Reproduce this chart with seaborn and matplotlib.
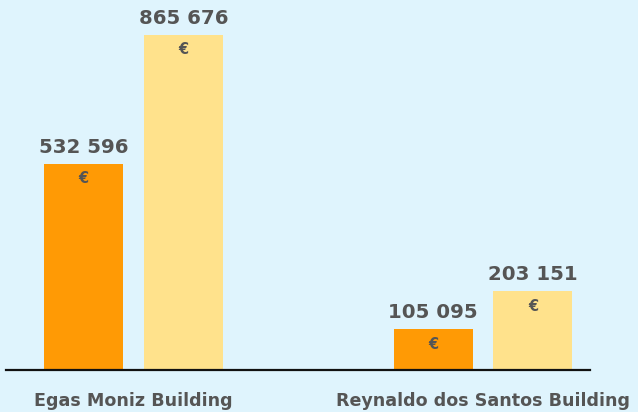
import matplotlib
matplotlib.use("Agg")
import pandas as pd
import matplotlib.pyplot as plt
import seaborn as sns

# values
buildings = ["Egas Moniz Building", "Reynaldo dos Santos Building"]
series_names = ["A", "B"]
values_a = [532596, 105095]
values_b = [865676, 203151]

df = pd.DataFrame({
    "building": buildings * 2,
    "series": [series_names[0]] * 2 + [series_names[1]] * 2,
    "value": values_a + values_b,
})

bg = "#dff4fd"
text_col = "#555555"
palette = {"A": "#ff9a05", "B": "#ffe28c"}

sns.set_style("white")
plt.rcParams["font.family"] = ["DejaVu Sans"]

fig = plt.figure(figsize=(6.38, 4.12), dpi=100, facecolor=bg)
ax = fig.add_axes([6 / 638, 42 / 412, 584 / 638, 370 / 412])
ax.set_facecolor(bg)

sns.barplot(data=df, x="building", y="value", hue="series", palette=palette,
            width=0.572, gap=0.21, saturation=1, linewidth=0, ax=ax,
            legend=False)

def fmt(v):
    return f"{v:,}".replace(",", " ")

for cont in ax.containers:
    vals = [b.get_height() for b in cont]
    ax.bar_label(cont, labels=[fmt(int(round(v))) for v in vals], padding=5,
                 fontsize=14.2, fontweight="bold", color=text_col)
    ax.bar_label(cont, labels=["€"] * len(vals), padding=-16,
                 fontsize=10.5, fontweight="bold", color=text_col)

ax.set_xlim(-127.5 / 349.5, 456.5 / 349.5)
ax.set_ylim(0, 865676 * 370 / 335)
ax.set_yticks([])
ax.set_xlabel("")
ax.set_ylabel("")
ax.tick_params(axis="x", length=0, pad=16)
for lab in ax.get_xticklabels():
    lab.set_fontsize(12.6)
    lab.set_fontweight("bold")
    lab.set_color(text_col)
for s in ["top", "left", "right"]:
    ax.spines[s].set_visible(False)
ax.spines["bottom"].set_color("#111111")
ax.spines["bottom"].set_linewidth(1.6)

fig.savefig("out.png", dpi=100, facecolor=bg)
